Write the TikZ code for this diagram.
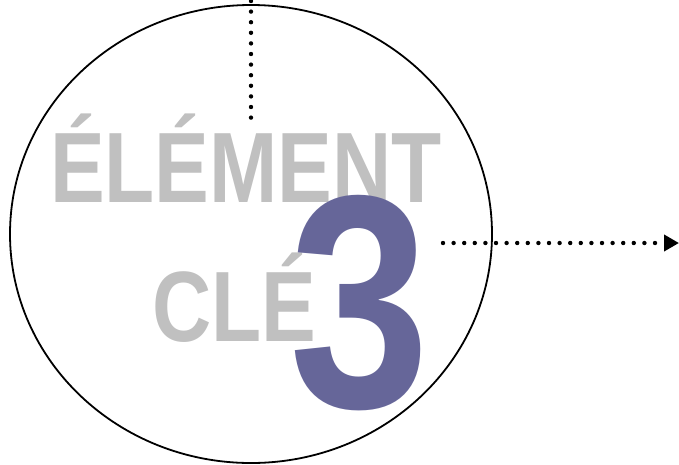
\documentclass[tikz,border=0pt]{standalone}
\usepackage{fontspec}
\usepackage{tikz}
\usetikzlibrary{arrows.meta,positioning,shapes.geometric}
\newfontfamily\motfont{Liberation Sans}
\definecolor{motgris}{HTML}{C0C0C0}
\definecolor{violet3}{HTML}{666699}

\begin{document}
\begin{tikzpicture}[
    x=1pt, y=-1pt,
    bulle/.style={draw, ellipse, line width=1.8pt, minimum width=482pt, minimum height=458pt, inner sep=0pt},
    mot/.style={inner sep=0pt, anchor=base, text=motgris, font=\motfont\bfseries\fontsize{100pt}{100pt}\selectfont},
    grandchiffre/.style={inner sep=0pt, anchor=base, text=violet3, font=\motfont\bfseries\fontsize{304pt}{304pt}\selectfont},
    pointille/.style={line width=4.4pt, line cap=round, dash pattern=on 0pt off 10.6pt},
    >={Triangle[length=15pt, width=16pt]}
]
\useasboundingbox (0,0) rectangle (679,464);

\node[bulle] (cle) at (251,234) {};
\node[mot] (element) at (246,202) {\scalebox{0.82}[1]{ÉLÉMENT}};
\node[mot] (motcle) at (234,341) {\scalebox{0.82}[1]{CLÉ}};
\node[grandchiffre] (trois) at (360,407) {\scalebox{0.83}[1]{3}};

% liens en pointillés
\coordinate (haut) at (251,1);
\coordinate (bas) at (251,118);
\coordinate (depart) at (443,243);
\coordinate (sortie) at (679,243);
\draw[pointille] (haut) -- (bas);
\draw[pointille,->] (depart) -- (sortie);

\end{tikzpicture}
\end{document}
